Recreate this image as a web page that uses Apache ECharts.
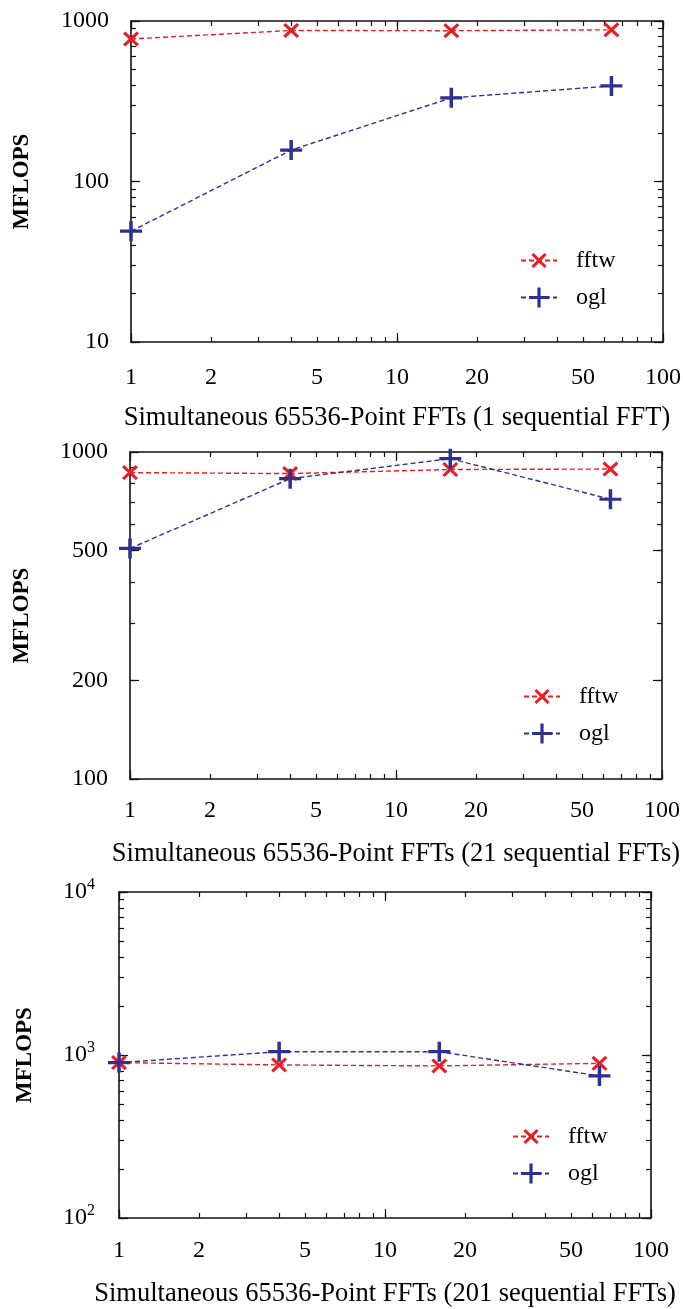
<!DOCTYPE html>
<html><head><meta charset="utf-8">
<script src="https://cdn.jsdelivr.net/npm/echarts@6/dist/echarts.min.js"></script>
<style>html,body{margin:0;padding:0;background:#fff}#c{width:683px;height:1309px}</style>
</head><body><div id="c"></div>
<script>
// ---- data ----
const xCounts = [1, 4, 16, 64];
const fftwA = [773, 873, 870, 881];
const oglA = [49, 157, 332, 394];
const fftwB = [865, 859, 884, 887];
const oglB = [507, 829, 954, 717];
const fftwC = [898, 869, 857, 889];
const oglC = [898, 1048, 1048, 744];
const xTickLabels = [1, 2, 5, 10, 20, 50, 100];
const yTickLabelsA = [10, 100, 1000];
const yTickLabelsB = [100, 200, 500, 1000];
const yTickLabelsC = [100, 1000, 10000];
const xTitles = [
  'Simultaneous 65536-Point FFTs (1 sequential FFT)',
  'Simultaneous 65536-Point FFTs (21 sequential FFTs)',
  'Simultaneous 65536-Point FFTs (201 sequential FFTs)'
];
const yTitle = 'MFLOPS';
const seriesNames = ['fftw', 'ogl'];

// ---- style ----
const FONT = 'Liberation Serif';
const RED = '#ed1c24', BLUE = '#2e3192';
const XSYM = 'path://M0,1.4L1.4,0L5,3.6L8.6,0L10,1.4L6.4,5L10,8.6L8.6,10L5,6.4L1.4,10L0,8.6L3.6,5Z';
const PSYM = 'path://M4.2,0H5.8V4.2H10V5.8H5.8V10H4.2V5.8H0V4.2H4.2Z';

function decadeTicks(lo, hi) {
  const out = [];
  for (let d = lo; d < hi; d *= 10) for (let k = 1; k < 10; k++) out.push(d * k);
  out.push(hi);
  return out;
}

const panels = [
  { grid: {left: 131, top: 21, width: 532, height: 321}, ymin: 10, ymax: 1000, yLabels: yTickLabelsA,
    yMajor: [10, 100, 1000], fftw: fftwA, ogl: oglA, sup: false, xNameGap: 63, xLabelMargin: 24,
    yNameGap: 97, yLabelMargin: 22, legX: 520, legY: [258, 298] },
  { grid: {left: 130, top: 452, width: 532, height: 327}, ymin: 100, ymax: 1000, yLabels: yTickLabelsB,
    yMajor: [100, 200, 500, 1000], fftw: fftwB, ogl: oglB, sup: false, xNameGap: 62, xLabelMargin: 20,
    yNameGap: 96, yLabelMargin: 22, legX: 523, legY: [694, 734] },
  { grid: {left: 119, top: 892, width: 532, height: 326}, ymin: 100, ymax: 10000, yLabels: yTickLabelsC,
    yMajor: [100, 1000, 10000], fftw: fftwC, ogl: oglC, sup: true, xNameGap: 63, xLabelMargin: 21,
    yNameGap: 82, yLabelMargin: 24, legX: 512, legY: [1134, 1174] }
];

const grids = [], xAxes = [], yAxes = [], series = [], legends = [];
const lineCol = '#111';
panels.forEach((p, i) => {
  const g = Object.assign({outerBoundsMode: 'none', containLabel: false}, p.grid);
  grids.push(Object.assign({}, g), Object.assign({}, g));
  const gMain = 2 * i, gOver = 2 * i + 1;
  const xMinor = decadeTicks(1, 100);
  const yMinor = decadeTicks(p.ymin, p.ymax);
  const baseX = {type: 'log', min: 1, max: 100, splitLine: {show: false}};
  const baseY = {type: 'log', min: p.ymin, max: p.ymax, splitLine: {show: false}};
  // x axes
  xAxes.push(Object.assign({}, baseX, {
    gridIndex: gMain, position: 'bottom',
    axisLine: {show: true, lineStyle: {color: lineCol, width: 1.6}},
    axisTick: {show: true, inside: true, length: 5, customValues: xMinor, lineStyle: {color: lineCol, width: 1.2}},
    axisLabel: {show: true, customValues: xTickLabels, margin: p.xLabelMargin, fontFamily: FONT, fontSize: 24, color: '#000',
      formatter: v => String(Math.round(v))},
    name: xTitles[i], nameLocation: 'middle', nameGap: p.xNameGap,
    nameTextStyle: {fontFamily: FONT, fontSize: 26.5, color: '#000'}
  }));
  xAxes.push(Object.assign({}, baseX, {
    gridIndex: gMain, position: 'top',
    axisLine: {show: true, lineStyle: {color: lineCol, width: 1.6}},
    axisTick: {show: true, inside: true, length: 5, customValues: xMinor, lineStyle: {color: lineCol, width: 1.2}},
    axisLabel: {show: false}
  }));
  ['bottom', 'top'].forEach(pos => xAxes.push(Object.assign({}, baseX, {
    gridIndex: gOver, position: pos, axisLine: {show: false},
    axisTick: {show: true, inside: true, length: 9, customValues: [1, 10, 100], lineStyle: {color: lineCol, width: 1.2}},
    axisLabel: {show: false}
  })));
  // y axes
  const yLabelFmt = p.sup
    ? (v => '10{sup|' + Math.round(Math.log10(v)) + '}')
    : (v => String(Math.round(v)));
  yAxes.push(Object.assign({}, baseY, {
    gridIndex: gMain, position: 'left',
    axisLine: {show: true, lineStyle: {color: lineCol, width: 1.6}},
    axisTick: {show: true, inside: true, length: 5, customValues: yMinor, lineStyle: {color: lineCol, width: 1.2}},
    axisLabel: {show: true, customValues: p.yLabels, margin: p.yLabelMargin, fontFamily: FONT, fontSize: 24, color: '#000',
      formatter: yLabelFmt,
      rich: {sup: {fontFamily: FONT, fontSize: 16, color: '#000', padding: [0, 0, 14, 0]}}},
    name: yTitle, nameLocation: 'middle', nameGap: p.yNameGap,
    nameTextStyle: {fontFamily: FONT, fontSize: 23, fontWeight: 'bold', color: '#000'}
  }));
  yAxes.push(Object.assign({}, baseY, {
    gridIndex: gMain, position: 'right',
    axisLine: {show: true, lineStyle: {color: lineCol, width: 1.6}},
    axisTick: {show: true, inside: true, length: 5, customValues: yMinor, lineStyle: {color: lineCol, width: 1.2}},
    axisLabel: {show: false}
  }));
  ['left', 'right'].forEach(pos => yAxes.push(Object.assign({}, baseY, {
    gridIndex: gOver, position: pos, axisLine: {show: false},
    axisTick: {show: true, inside: true, length: 9, customValues: p.yMajor, lineStyle: {color: lineCol, width: 1.2}},
    axisLabel: {show: false}
  })));
  // series
  const mk = (name, vals, col, sym, size) => ({
    type: 'line', name: name, xAxisIndex: 4 * i, yAxisIndex: 4 * i,
    data: xCounts.map((x, j) => [x, vals[j]]),
    symbol: sym, symbolSize: size, showAllSymbol: true,
    itemStyle: {color: col},
    lineStyle: {color: col, width: 1.4, type: [5, 3]},
    emphasis: {disabled: true}, animation: false, z: 3
  });
  series.push(mk(seriesNames[0], p.fftw, RED, XSYM, [16, 15]));
  series.push(mk(seriesNames[1], p.ogl, BLUE, PSYM, [22, 20]));
  // one legend per entry so each marker keeps its own size
  const legH = [19, 25];
  seriesNames.forEach((nm, k) => legends.push({
    orient: 'vertical', left: p.legX, top: p.legY[k] - legH[k] / 2, padding: 0,
    itemWidth: 36, itemHeight: legH[k], selectedMode: false,
    data: [nm],
    textStyle: {fontFamily: FONT, fontSize: 24, color: '#000', lineHeight: 18, padding: [0, 0, 0, 14]}
  }));
});

const chart = echarts.init(document.getElementById('c'), null, {renderer: 'canvas'});
chart.setOption({
  backgroundColor: '#fff',
  animation: false,
  grid: grids, xAxis: xAxes, yAxis: yAxes, series: series, legend: legends
});
</script></body></html>
